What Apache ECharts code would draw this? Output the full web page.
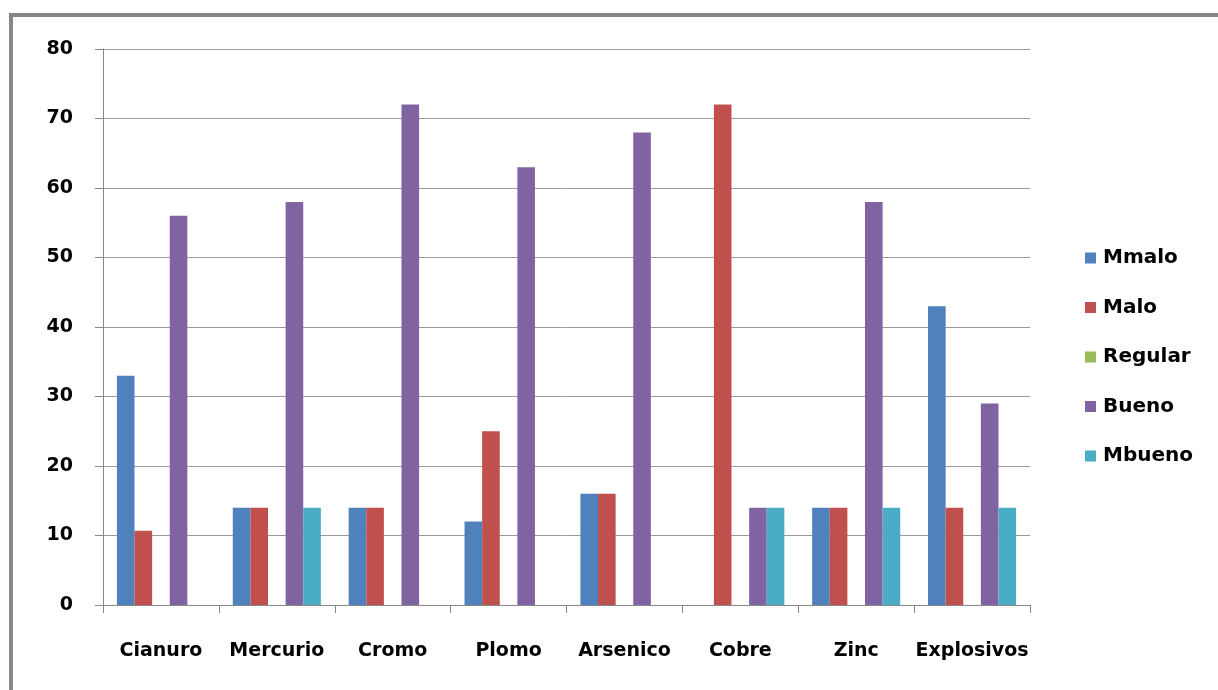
<!DOCTYPE html>
<html>
<head>
<meta charset="utf-8">
<script src="https://cdn.jsdelivr.net/npm/echarts@6/dist/echarts.min.js"></script>
<style>
  html, body { margin: 0; padding: 0; background: #fff; overflow: hidden; }
  #frame { position: absolute; left: 9px; top: 13px; width: 1400px; height: 900px;
           border-top: 4px solid #878787; border-left: 4px solid #878787; box-sizing: border-box; }
  #chart { position: absolute; left: 0; top: 0; width: 1218px; height: 690px; }
</style>
</head>
<body>
<div id="frame"></div>
<div id="chart"></div>
<script>
// Categories (contaminants) and ratings per series
const categories = ['Cianuro', 'Mercurio', 'Cromo', 'Plomo', 'Arsenico', 'Cobre', 'Zinc', 'Explosivos'];
const mmalo   = [33, 14, 14, 12, 16, 0, 14, 43];
const malo    = [10.7, 14, 14, 25, 16, 72, 14, 14];
const regular = [0, 0, 0, 0, 0, 0, 0, 0];
const bueno   = [56, 58, 72, 63, 68, 14, 58, 29];
const mbueno  = [0, 14, 0, 0, 0, 14, 14, 14];
const seriesNames = ['Mmalo', 'Malo', 'Regular', 'Bueno', 'Mbueno'];
const seriesColors = ['#4F81BD', '#C0504D', '#9BBB59', '#8064A2', '#4BACC6'];
const seriesData = [mmalo, malo, regular, bueno, mbueno];

const chart = echarts.init(document.getElementById('chart'));
const font = 'DejaVu Sans';

chart.setOption({
  animation: false,
  grid: { left: 103, right: 188, top: 49, bottom: 85 },
  legend: {
    orient: 'vertical',
    left: 1085,
    top: 247,
    padding: 0,
    itemWidth: 11,
    itemHeight: 11,
    itemGap: 27.5,
    icon: 'rect',
    textStyle: { fontFamily: font, fontWeight: 'bold', fontSize: 20, color: '#000', lineHeight: 22, padding: [0, 0, 0, 2] },
    data: seriesNames
  },
  xAxis: {
    type: 'category',
    data: categories,
    boundaryGap: true,
    axisLine: { lineStyle: { color: '#888', width: 1 } },
    axisTick: { show: true, length: 8, lineStyle: { color: '#888' } },
    axisLabel: { fontFamily: font, fontWeight: 'bold', fontSize: 19, color: '#000', margin: 37, interval: 0 }
  },
  yAxis: {
    type: 'value',
    min: 0, max: 80, interval: 10,
    axisLine: { show: true, lineStyle: { color: '#888', width: 1 } },
    axisTick: { show: true, length: 8, lineStyle: { color: '#888' } },
    splitLine: { lineStyle: { color: '#9a9a9a', width: 1 } },
    axisLabel: { fontFamily: font, fontWeight: 'bold', fontSize: 19, color: '#000', margin: 30 }
  },
  series: seriesNames.map((name, i) => ({
    name: name,
    type: 'bar',
    data: seriesData[i],
    barGap: '0%',
    barCategoryGap: '24%',
    itemStyle: { color: seriesColors[i] }
  }))
});
</script>
</body>
</html>
